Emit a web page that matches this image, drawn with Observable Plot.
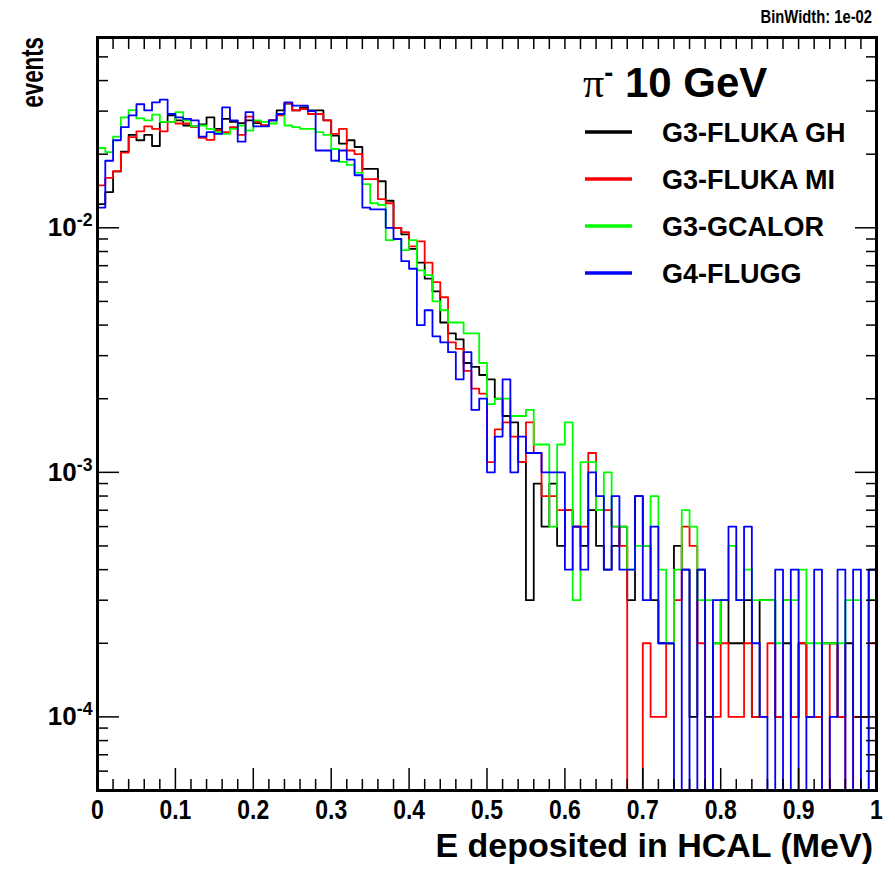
<!DOCTYPE html>
<html><head><meta charset="utf-8">
<script src="https://cdn.jsdelivr.net/npm/d3@7"></script>
<script src="https://cdn.jsdelivr.net/npm/@observablehq/plot@0.6"></script>
<style>
body{margin:0;background:#fff;}
#wrap{position:relative;width:895px;height:873px;}
</style></head><body><div id="wrap"></div>
<script>
// bin width 0.01 MeV, 100 bins from 0 to 1; entries as counts per 10^4 events
const binWidth = 0.01;
const flukaGH = [125,140,170,205,240,228,240,216,271,288, 275,262,260,265,283,254,279,271,268,275,
  268,262,275,302,322,302,311,302,302,275, 238,221,228,214,174,174,155,129,100,94,
  82,72,62,55,41,37,35,28,27,25, 24,20,17,16,11,3,9,6,9,5,
  7,6,5,7,5,4,5,6,3,8, 5,3,2,2,5,4,1,4,1,2,
  3,2,2,3,1,3,3,1,2,1, 2,1,1,2,2,1,2,1,1,4];
const flukaMI = [149,160,170,203,235,248,260,254,248,271, 267,267,258,233,229,250,246,258,240,285,
  271,262,275,288,323,302,306,292,292,275, 242,254,207,200,158,158,131,126,100,96,
  84,88,72,60,52,34,32,26,22,21, 11,15,16,14,11,16,12,8,8,7,
  7,6,6,12,7,7,6,5,0,0, 2,1,1,2,3,6,5,2,0,1,
  2,1,1,2,1,1,2,1,3,1, 2,1,1,0,2,1,0,1,1,2];
const gcalor = [212,204,236,283,303,280,275,290,271,271, 297,275,260,262,254,246,242,254,262,250,
  275,271,267,292,262,258,254,254,246,240, 210,186,181,168,151,126,124,89,90,81,
  89,67,64,50,46,41,41,37,37,28, 19,20,20,17,17,18,13,13,6,13,
  16,3,11,11,7,10,6,6,4,5, 5,8,4,2,4,7,6,3,3,2,
  3,5,3,4,3,3,3,2,3,3, 4,2,2,2,2,2,3,3,0,3];
const flugg = [121,188,228,258,288,320,302,326,334,292, 283,279,275,236,246,242,311,275,225,297,
  260,260,275,292,326,316,316,300,207,207, 188,207,190,164,121,119,119,100,90,73,
  68,40,46,36,34,31,24,31,18,20, 10,14,24,10,14,12,12,10,10,10,
  4,6,4,10,8,4,8,4,4,8, 3,6,2,2,0,4,0,4,0,3,
  3,6,3,6,2,1,0,4,0,4, 0,1,4,0,1,4,0,4,0,4];

const seriesNames = ["G3-FLUKA GH", "G3-FLUKA MI", "G3-GCALOR", "G4-FLUGG"];
const seriesColors = ["#000000", "#ff0000", "#00ff00", "#0000ff"];
const seriesCounts = [flukaGH, flukaMI, gcalor, flugg];

const xTicks = [0,0.1,0.2,0.3,0.4,0.5,0.6,0.7,0.8,0.9,1];
const xTickLabels = ["0","0.1","0.2","0.3","0.4","0.5","0.6","0.7","0.8","0.9","1"];
const xMinorTicks = [0.02,0.04,0.06,0.08,0.12,0.14,0.16,0.18,0.22,0.24,0.26,0.28,0.32,0.34,0.36,0.38,
  0.42,0.44,0.46,0.48,0.52,0.54,0.56,0.58,0.62,0.64,0.66,0.68,0.72,0.74,0.76,0.78,0.82,0.84,0.86,0.88,0.92,0.94,0.96,0.98];
const yTicks = [1e-4, 1e-3, 1e-2];
const yTickLabels = ["10^-4", "10^-3", "10^-2"];
const yMinorTicks = [5e-5,6e-5,7e-5,8e-5,9e-5,2e-4,3e-4,4e-4,5e-4,6e-4,7e-4,8e-4,9e-4,
  2e-3,3e-3,4e-3,5e-3,6e-3,7e-3,8e-3,9e-3,2e-2,3e-2,4e-2,5e-2];

const FONT = '"Liberation Sans", Arial, Helvetica, sans-serif';
const xLab = new Map(xTicks.map((t,i)=>[t, xTickLabels[i]]));
const yLab = new Map(yTicks.map((t,i)=>[t, yTickLabels[i]]));

function stepRows(counts){
  const rows = counts.map((c,i)=>({x: i*binWidth, v: c/1e4}));
  rows.push({x: counts.length*binWidth, v: counts[counts.length-1]/1e4});
  return rows;
}
const FLOOR = 1e-7; // empty bins: drawn below the frame and clipped

const chart = Plot.plot({
  width: 895, height: 873,
  marginLeft: 97, marginRight: 19, marginTop: 37, marginBottom: 83,
  style: {fontFamily: FONT, background: "white"},
  x: {domain: [0, 1], label: null},
  y: {type: "log", domain: [5e-5, 0.06], label: null},
  marks: [
    ...seriesCounts.map((counts, k) => Plot.line(stepRows(counts), {
      x: "x", y: d => d.v > 0 ? d.v : FLOOR, curve: "step-after",
      stroke: seriesColors[k], strokeWidth: 1.8, clip: true
    })),
    Plot.axisX({anchor: "bottom", ticks: xTicks, tickSize: -22, fill: "none", strokeWidth: 1.5, label: null}),
    Plot.axisX({anchor: "bottom", ticks: xMinorTicks, tickSize: -11, fill: "none", strokeWidth: 1.5, label: null}),
    Plot.axisX({anchor: "top", ticks: xTicks.concat(xMinorTicks), tickSize: -11, fill: "none", strokeWidth: 1.5, label: null}),
    Plot.axisY({anchor: "left", ticks: yTicks, tickSize: -22, fill: "none", strokeWidth: 1.5, label: null}),
    Plot.axisY({anchor: "left", ticks: yMinorTicks, tickSize: -11, fill: "none", strokeWidth: 1.5, label: null}),
    Plot.axisY({anchor: "right", ticks: yTicks, tickSize: -22, fill: "none", strokeWidth: 1.5, label: null}),
    Plot.axisY({anchor: "right", ticks: yMinorTicks, tickSize: -11, fill: "none", strokeWidth: 1.5, label: null}),
    Plot.axisX({anchor: "bottom", ticks: xTicks, tickSize: 0, tickPadding: 9, tickFormat: d => xLab.get(d),
      fontSize: 28, fontWeight: "bold", label: null}),
    Plot.axisY({anchor: "left", ticks: yTicks, tickSize: 0, tickPadding: 5, tickFormat: d => yLab.get(d),
      fontSize: 26, fontWeight: "bold", label: null}),
    Plot.frame({strokeWidth: 3})
  ]
});
document.getElementById("wrap").appendChild(chart);

const svg = d3.select(chart);
function condense(el, f){
  const w = el.getComputedTextLength();
  d3.select(el).attr("textLength", (w*f).toFixed(1)).attr("lengthAdjust", "spacingAndGlyphs");
}
// x tick labels: condensed like the original Helvetica rendering
svg.selectAll("text").each(function(){
  if (xTickLabels.includes(this.textContent)) condense(this, 0.82);
});
// superscript exponents on the log axis labels
svg.selectAll("text").each(function(){
  const t = this.textContent;
  const m = /^10\^(-?\d+)$/.exec(t);
  if (!m) return;
  const el = d3.select(this);
  el.text(null);
  el.append("tspan").text("10");
  el.append("tspan").attr("dy", "-0.55em").attr("font-size", "68%").text(m[1]);
});

const g = svg.append("g").attr("font-family", FONT).attr("font-weight", "bold")
  .attr("fill", "black").attr("text-anchor", "start");
const t1 = g.append("text").attr("x", 872).attr("y", 23).attr("text-anchor", "end").attr("font-size", 18)
  .text("BinWidth: 1e-02");
condense(t1.node(), 0.82);
g.append("text").attr("x", 873).attr("y", 857).attr("text-anchor", "end").attr("font-size", 34)
  .text("E deposited in HCAL (MeV)");
const t3 = g.append("text").attr("transform", "translate(43,37) rotate(-90)").attr("text-anchor", "end").attr("font-size", 31)
  .text("events");
condense(t3.node(), 0.72);

// legend
const head = g.append("text").attr("x", 583).attr("y", 97).attr("font-size", 42);
head.append("tspan").attr("font-family", '"Liberation Serif", "DejaVu Serif", serif').attr("font-weight", "normal").text("π");
head.append("tspan").attr("dy", -15).attr("font-size", 27).text("-");
head.append("tspan").attr("dy", 15).text(" 10 GeV");
const legY = [132, 179, 226, 273];
seriesNames.forEach((name, k) => {
  g.append("line").attr("x1", 585).attr("x2", 632).attr("y1", legY[k]).attr("y2", legY[k])
    .attr("stroke", seriesColors[k]).attr("stroke-width", 3.5);
  g.append("text").attr("x", 662).attr("y", legY[k] + 9.5).attr("font-size", 27).text(name);
});
</script>
</body></html>
